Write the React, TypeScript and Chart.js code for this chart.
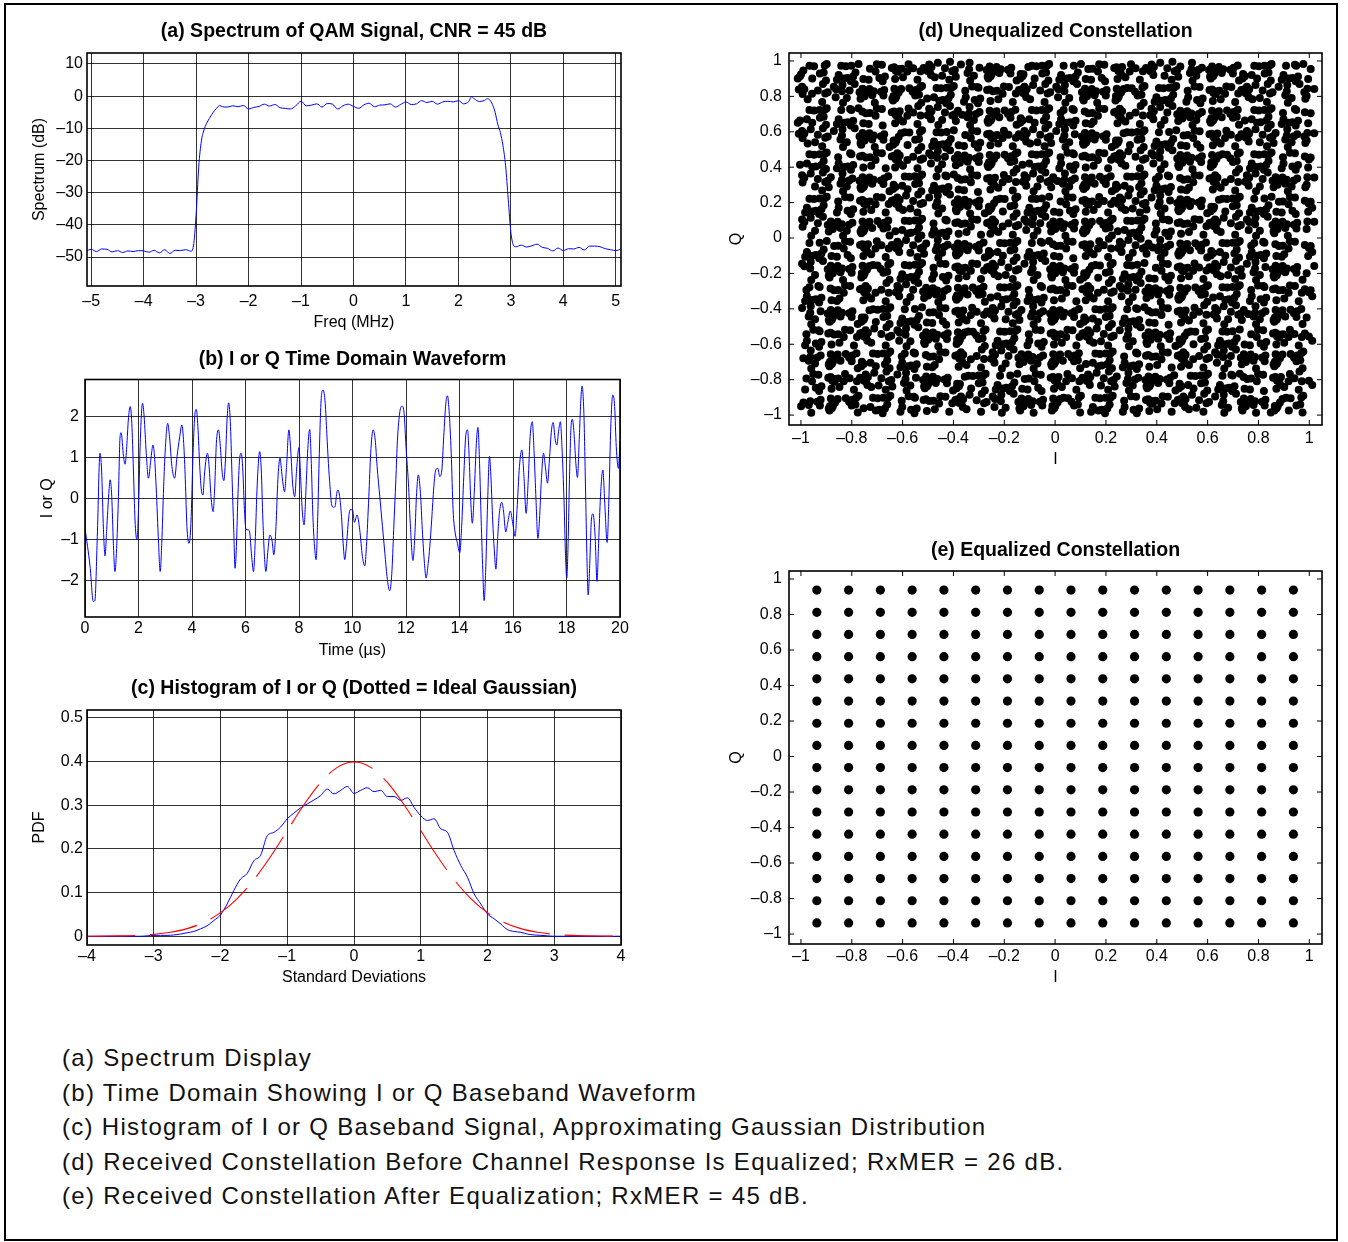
import React, { useEffect, useRef } from 'react';
import { Chart, registerables } from 'chart.js';

Chart.register(...registerables);
Chart.defaults.font.family = "'Liberation Sans', Arial, Helvetica, sans-serif";
Chart.defaults.color = '#000';

// ---------------- (a) Spectrum ----------------
const specFreqMHz = [
  -5.1, -5.0, -4.9, -4.8, -4.7, -4.6, -4.5, -4.4, -4.3, -4.2, -4.1, -4.0, -3.9, -3.8, -3.7, -3.6, -3.5, -3.4, -3.3, -3.2, -3.1,
  -3.05, -3.0, -2.95, -2.9, -2.85, -2.8, -2.75, -2.7, -2.65, -2.6, -2.55, -2.5, -2.4, -2.3, -2.2, -2.1, -2.0, -1.9, -1.8, -1.7,
  -1.6, -1.5, -1.4, -1.3, -1.2, -1.1, -1.0, -0.9, -0.8, -0.7, -0.6, -0.5, -0.4, -0.3, -0.2, -0.1, 0.0, 0.1, 0.2, 0.3, 0.4, 0.5,
  0.6, 0.7, 0.8, 0.9, 1.0, 1.1, 1.2, 1.3, 1.4, 1.5, 1.6, 1.7, 1.8, 1.9, 2.0, 2.1, 2.2, 2.25, 2.3, 2.4, 2.5, 2.55, 2.6, 2.65,
  2.7, 2.75, 2.8, 2.85, 2.9, 2.95, 3.0, 3.05, 3.1, 3.2, 3.3, 3.4, 3.5, 3.6, 3.7, 3.8, 3.9, 4.0, 4.1, 4.2, 4.3, 4.4, 4.5, 4.6,
  4.7, 4.8, 4.9, 5.0, 5.1,
];
const specLevelDb = [
  -48.2, -47.6, -48.3, -47.5, -47.6, -48.4, -48.0, -48.6, -48.1, -48.3, -48.0, -48.1, -48.5, -47.9, -48.7, -47.7, -48.9, -47.9, -48.0, -47.7, -48.2,
  -46.5, -37.0, -22.0, -14.0, -10.5, -8.5, -7.0, -5.7, -4.5, -3.6, -2.9, -3.3, -3.4, -3.0, -3.3, -2.9, -4.0, -3.5, -3.2, -2.5,
  -3.1, -2.6, -3.6, -3.8, -4.0, -3.0, -1.6, -3.0, -2.8, -2.4, -3.4, -2.3, -2.5, -4.0, -3.0, -2.5, -3.2, -3.8, -2.7, -2.2, -3.3, -2.8,
  -2.7, -2.4, -3.4, -2.6, -1.8, -2.6, -2.4, -1.4, -2.0, -1.6, -2.5, -1.8, -1.6, -1.8, -1.4, -2.4, -1.6, -0.2, -0.8, -1.7, -1.3, -0.8, -1.2, -2.6,
  -5.0, -8.7, -11.3, -15.4, -21.6, -32.0, -42.2, -46.3, -46.8, -46.3, -46.9, -46.5, -46.0, -47.0, -47.3, -48.1, -47.2, -48.0, -47.4, -47.5, -47.0, -47.8, -46.6, -46.6,
  -46.8, -47.4, -47.7, -48.0, -47.5,
];
const specXTicks = [-5, -4, -3, -2, -1, 0, 1, 2, 3, 4, 5];
const specYTicks = [-50, -40, -30, -20, -10, 0, 10];

// ---------------- (b) Time-domain waveform ----------------
const waveTimeUs = [
  0, 0.19, 0.31, 0.37, 0.46, 0.56, 0.62, 0.69, 0.75, 0.81, 0.89, 0.94, 1.0, 1.06, 1.12, 1.19, 1.25, 1.31, 1.35, 1.44,
  1.5, 1.56, 1.62, 1.69, 1.75, 1.81, 1.87, 1.94, 2.0, 2.06, 2.15, 2.21, 2.29, 2.37, 2.46, 2.54, 2.59, 2.66, 2.75, 2.81,
  2.87, 2.94, 3.0, 3.09, 3.16, 3.25, 3.35, 3.44, 3.54, 3.62, 3.69, 3.75, 3.81, 3.89, 3.96, 4.04, 4.1, 4.16, 4.22, 4.29,
  4.35, 4.41, 4.46, 4.53, 4.58, 4.64, 4.71, 4.79, 4.85, 4.91, 4.99, 5.06, 5.12, 5.19, 5.25, 5.31, 5.37, 5.44, 5.5, 5.56,
  5.61, 5.66, 5.72, 5.79, 5.84, 5.9, 5.96, 6.02, 6.1, 6.16, 6.22, 6.3, 6.36, 6.44, 6.53, 6.59, 6.65, 6.71, 6.76, 6.84,
  6.91, 6.99, 7.06, 7.14, 7.21, 7.29, 7.37, 7.46, 7.54, 7.62, 7.69, 7.76, 7.84, 7.91, 8.0, 8.06, 8.12, 8.19, 8.26, 8.32,
  8.4, 8.46, 8.52, 8.59, 8.64, 8.7, 8.76, 8.82, 8.9, 8.98, 9.04, 9.1, 9.16, 9.22, 9.29, 9.35, 9.41, 9.46, 9.52, 9.59,
  9.65, 9.71, 9.77, 9.85, 9.91, 10.0, 10.07, 10.17, 10.27, 10.37, 10.46, 10.52, 10.61, 10.68, 10.77, 10.85, 10.92, 11.02, 11.12, 11.21,
  11.29, 11.39, 11.47, 11.54, 11.62, 11.68, 11.77, 11.85, 11.93, 12.0, 12.09, 12.16, 12.26, 12.34, 12.39, 12.46, 12.54, 12.61, 12.69, 12.75,
  12.83, 12.89, 12.96, 13.04, 13.11, 13.19, 13.26, 13.34, 13.41, 13.49, 13.55, 13.61, 13.69, 13.76, 13.84, 13.91, 14.01, 14.08, 14.16, 14.23,
  14.3, 14.36, 14.42, 14.48, 14.55, 14.63, 14.69, 14.75, 14.81, 14.87, 14.92, 14.98, 15.05, 15.12, 15.18, 15.24, 15.3, 15.36, 15.43, 15.49,
  15.58, 15.64, 15.73, 15.8, 15.9, 15.99, 16.08, 16.15, 16.24, 16.33, 16.41, 16.49, 16.57, 16.64, 16.72, 16.79, 16.86, 16.93, 16.99, 17.06,
  17.14, 17.21, 17.29, 17.36, 17.44, 17.5, 17.58, 17.64, 17.71, 17.77, 17.83, 17.91, 17.96, 18.01, 18.06, 18.11, 18.17, 18.22, 18.29, 18.35,
  18.41, 18.48, 18.53, 18.58, 18.65, 18.71, 18.76, 18.81, 18.87, 18.93, 18.99, 19.07, 19.14, 19.2, 19.27, 19.36, 19.43, 19.52, 19.58, 19.66,
  19.73, 19.8, 19.86, 19.94, 20.0,
];
const waveLevel = [
  -0.73, -1.67, -2.52, -2.5, -0.93, 1.1, 0.69, -0.77, -1.41, -0.77, 0.12, 0.45, 0.04, -1.1, -1.79, -1.1, 0.04, 1.5, 1.6, 1.02,
  0.83, 1.26, 1.91, 2.24, 1.83, 0.69, -0.53, -1.02, -0.28, 1.26, 2.32, 2.0, 1.1, 0.49, 0.93, 1.3, 1.1, 0.28, -1.1, -1.79,
  -1.1, 0.28, 1.18, 1.83, 1.5, 0.77, 0.49, 1.02, 1.5, 1.79, 1.34, 0.45, -0.69, -1.1, -0.61, 1.1, 1.99, 2.17, 1.75, 0.77,
  0.2, 0.08, 0.53, 0.98, 1.1, 0.77, 0.04, -0.33, 0.28, 1.34, 1.67, 1.26, 0.69, 0.43, 0.93, 1.91, 2.33, 1.75, 0.45, -0.77,
  -1.71, -1.18, 0.12, 1.02, 1.1, 0.69, -0.28, -0.76, -0.77, -0.85, -1.34, -1.79, -1.1, 0.37, 1.14, 0.69, -0.53, -1.43, -1.79, -1.26,
  -0.9, -1.02, -1.38, -0.69, 0.45, 0.98, 0.53, 0.16, 0.85, 1.67, 1.18, 0.37, 0.04, 0.69, 1.24, 0.53, -0.28, -0.65, 0.2, 1.1,
  1.68, 0.85, -0.45, -1.26, -1.5, -0.45, 1.1, 2.32, 2.64, 2.32, 1.58, 0.85, 0.28, -0.16, -0.22, -0.2, 0.12, 0.2, 0.04, -0.45,
  -1.1, -1.5, -1.18, -0.53, -0.28, -0.28, -0.59, -0.41, -0.77, -1.42, -1.65, -1.18, 0.04, 1.1, 1.67, 1.42, 0.77, 0.04, -0.69, -1.34,
  -1.91, -2.26, -1.83, -0.77, 0.45, 1.42, 2.11, 2.25, 2.07, 1.26, 0.37, -0.61, -1.52, -0.77, 0.04, 0.57, 0.12, -0.77, -1.59, -1.95,
  -1.59, -1.18, -0.53, 0.28, 0.69, 0.73, 0.53, 0.69, 1.5, 2.32, 2.5, 2.15, 1.1, -0.28, -0.85, -1.06, -1.33, -0.69, 0.53, 1.5,
  1.67, 1.02, -0.04, -0.61, 0.12, 1.34, 1.73, 0.85, -0.53, -1.75, -2.5, -1.75, -0.12, 1.02, 0.45, -0.53, -1.26, -1.73, -0.93, -0.37,
  -0.1, -0.28, -0.82, -0.61, -0.31, -0.61, -0.93, -0.28, 0.77, 1.18, 0.53, -0.37, 0.45, 1.5, 1.87, 1.1, -0.04, -0.98, -0.53, 0.45,
  1.1, 0.77, 0.37, 0.93, 1.67, 1.85, 1.42, 1.3, 1.67, 1.87, 1.26, -0.12, -1.34, -1.95, -1.1, 0.45, 1.75, 1.93, 1.5, 0.85,
  0.51, 1.5, 2.32, 2.74, 2.07, 0.28, -1.34, -2.36, -1.59, -0.53, -0.38, -0.93, -2.03, -1.1, 0.04, 0.69, -0.12, -1.08, -0.12, 1.83,
  2.52, 2.24, 1.26, 0.73, 1.4,
];
const waveXTicks = [0, 2, 4, 6, 8, 10, 12, 14, 16, 18, 20];
const waveYTicks = [-2, -1, 0, 1, 2];

// ---------------- (c) Histogram ----------------
const histSigma = [
  -4.0, -3.9, -3.8, -3.7, -3.6, -3.5, -3.4, -3.3, -3.2, -3.1, -3.0, -2.9, -2.8, -2.7, -2.6, -2.5, -2.4, -2.3, -2.2, -2.1,
  -2.0, -1.9, -1.8, -1.7, -1.6, -1.5, -1.4, -1.3, -1.2, -1.1, -1.0, -0.9, -0.8, -0.7, -0.6, -0.5, -0.4, -0.3, -0.2, -0.1,
  0.0, 0.1, 0.2, 0.3, 0.4, 0.5, 0.6, 0.7, 0.8, 0.9, 1.0, 1.1, 1.2, 1.3, 1.4, 1.5, 1.6, 1.7, 1.8, 1.9,
  2.0, 2.1, 2.2, 2.3, 2.4, 2.5, 2.6, 2.7, 2.8, 2.9, 3.0, 3.1, 3.2, 3.3, 3.4, 3.5, 3.6, 3.7, 3.8, 3.9, 4.0,
];
const histPdf = [
  0, 0, 0, 0, 0, 0, 0, 0, 0, 0.001, 0.002, 0.002, 0.002, 0.003, 0.005, 0.008, 0.011, 0.017, 0.024, 0.036,
  0.049, 0.074, 0.105, 0.131, 0.144, 0.173, 0.185, 0.23, 0.238, 0.25, 0.269, 0.282, 0.294, 0.303, 0.312, 0.322, 0.337, 0.326, 0.334, 0.343,
  0.327, 0.334, 0.34, 0.331, 0.334, 0.32, 0.32, 0.311, 0.317, 0.295, 0.276, 0.265, 0.269, 0.246, 0.238, 0.196, 0.162, 0.135, 0.097, 0.074,
  0.051, 0.04, 0.028, 0.015, 0.011, 0.009, 0.005, 0.003, 0.002, 0.001, 0, 0, 0, 0, 0, 0, 0, 0, 0, 0, 0,
];
const gaussSigma = [
  -4, -3.75, -3.5, -3.25, -3, -2.75, -2.5, -2.25, -2, -1.75, -1.5, -1.25, -1, -0.75, -0.5, -0.25, 0,
  0.25, 0.5, 0.75, 1, 1.25, 1.5, 1.75, 2, 2.25, 2.5, 2.75, 3, 3.25, 3.5, 3.75, 4,
];
const gaussPdf = [
  0.0001, 0.0004, 0.0009, 0.002, 0.0044, 0.0091, 0.0175, 0.0317, 0.054, 0.0863, 0.1295, 0.1826, 0.242, 0.3011, 0.3521, 0.3867, 0.3989,
  0.3867, 0.3521, 0.3011, 0.242, 0.1826, 0.1295, 0.0863, 0.054, 0.0317, 0.0175, 0.0091, 0.0044, 0.002, 0.0009, 0.0004, 0.0001,
];
const histXTicks = [-4, -3, -2, -1, 0, 1, 2, 3, 4];
const histYTicks = [0, 0.1, 0.2, 0.3, 0.4, 0.5];

// ---------------- (d)/(e) Constellations ----------------
const qamLevels = [
  -0.9375, -0.8125, -0.6875, -0.5625, -0.4375, -0.3125, -0.1875, -0.0625,
  0.0625, 0.1875, 0.3125, 0.4375, 0.5625, 0.6875, 0.8125, 0.9375,
];
const constTicks = [-1, -0.8, -0.6, -0.4, -0.2, 0, 0.2, 0.4, 0.6, 0.8, 1];
// estimated scatter of received symbols around each ideal point (before equalization)
const unequalizedSpread: [number, number][] = [
  [0.012, -0.008], [-0.041, 0.019], [0.055, 0.031], [-0.018, -0.037], [0.033, 0.004], [-0.062, -0.012],
  [0.006, 0.041], [0.047, -0.026], [-0.029, 0.035], [0.021, -0.044], [-0.053, 0.009], [0.068, 0.017],
  [-0.007, -0.021], [0.039, 0.046], [-0.036, -0.029], [0.002, 0.013], [0.058, -0.039], [-0.024, 0.052],
  [0.027, -0.003], [-0.071, 0.027], [0.015, 0.024], [-0.046, -0.043], [0.043, 0.011], [-0.011, 0.033],
  [0.074, -0.017], [-0.032, -0.006], [0.009, -0.052], [-0.058, 0.042], [0.031, 0.037], [-0.019, 0.003],
  [0.052, -0.011], [-0.004, -0.033], [0.024, 0.058], [-0.066, -0.024], [0.061, 0.006], [-0.026, 0.016],
  [0.018, -0.025], [-0.049, 0.028], [0.036, -0.048], [-0.014, 0.044], [0.082, 0.029], [-0.039, -0.017],
  [0.004, 0.021], [-0.075, -0.036], [0.045, 0.023], [-0.022, -0.049], [0.011, 0.036], [-0.056, 0.001],
];
const symbolsPerPoint = 12;

const captionLines = [
  '(a) Spectrum Display',
  '(b) Time Domain Showing I or Q Baseband Waveform',
  '(c) Histogram of I or Q Baseband Signal, Approximating Gaussian Distribution',
  '(d) Received Constellation Before Channel Response Is Equalized; RxMER = 26 dB.',
  '(e) Received Constellation After Equalization; RxMER = 45 dB.',
];

// ---------------- helpers ----------------
const EN = '\u2013';
function fmtTick(v: number): string {
  const r = Math.round(v * 1000) / 1000;
  if (r === 0) return '0';
  return r < 0 ? EN + String(-r) : String(r);
}
const zip = (xs: number[], ys: number[]) => xs.map((x, i) => ({ x, y: ys[i] }));

const unequalizedPoints: { x: number; y: number }[] = [];
qamLevels.forEach((xi, i) =>
  qamLevels.forEach((yj, j) => {
    for (let k = 0; k < symbolsPerPoint; k++) {
      const [dx, dy] = unequalizedSpread[(i * 13 + j * 29 + k * 5) % unequalizedSpread.length];
      unequalizedPoints.push({ x: xi + dx, y: yj + dy });
    }
  })
);
const equalizedPoints: { x: number; y: number }[] = [];
qamLevels.forEach((xi) => qamLevels.forEach((yj) => equalizedPoints.push({ x: xi, y: yj })));

const frame = {
  id: 'frame',
  afterDraw(chart: any, _args: any, opts: any) {
    const { ctx, chartArea } = chart;
    const { left, top, right, bottom } = chartArea;
    ctx.save();
    ctx.strokeStyle = '#000';
    if (opts && opts.inwardTicks) {
      const len = 5;
      ctx.lineWidth = 1;
      ctx.beginPath();
      const xs = chart.scales.x;
      const ys = chart.scales.y;
      xs.ticks.forEach((_t: any, i: number) => {
        const p = xs.getPixelForTick(i);
        ctx.moveTo(p, bottom);
        ctx.lineTo(p, bottom - len);
        ctx.moveTo(p, top);
        ctx.lineTo(p, top + len);
      });
      ys.ticks.forEach((_t: any, i: number) => {
        const p = ys.getPixelForTick(i);
        ctx.moveTo(left, p);
        ctx.lineTo(left + len, p);
        ctx.moveTo(right, p);
        ctx.lineTo(right - len, p);
      });
      ctx.stroke();
    }
    ctx.lineWidth = 1.6;
    ctx.strokeRect(left, top, right - left, bottom - top);
    ctx.restore();
  },
};

const TITLE_FS = 19.5;
const TITLE_LH = TITLE_FS * 1.2;
const TICK_FS = 16;
const TICK_LH = TICK_FS * 1.2;
const AX_FS = 16;
const AX_LH = AX_FS * 1.2;

type Panel = {
  kind: 'line' | 'scatter';
  plot: [number, number, number, number];
  titleY: number;
  xLabelY: number;
  xTitleY: number;
  yTitleX: number;
  yLabelRight: number;
  title: string;
  xTitle: string;
  yTitle: string;
  xRange: [number, number];
  yRange: [number, number];
  xTicks: number[];
  yTicks: number[];
  grid: boolean;
  datasets: any[];
};

function layoutOf(p: Panel) {
  const [l, t, r, b] = p.plot;
  const left = Math.floor(p.yTitleX - AX_LH / 2 - 2);
  const yTitlePad = p.yTitleX - AX_LH / 2 - left;
  const yAxisW = l - left;
  const top = Math.floor(p.titleY - TITLE_LH / 2 - 3);
  const titlePadTop = p.titleY - TITLE_LH / 2 - top;
  const titlePadBottom = t - top - titlePadTop - TITLE_LH;
  const xAxisH = p.xTitleY + AX_LH / 2 + 2 - b;
  const xTickPad = p.xLabelY - b - TICK_LH / 2;
  const yTickPad = l - p.yLabelRight;
  const width = Math.ceil(r + 14 - left);
  const height = Math.ceil(b + xAxisH + 2 - top);
  const padRight = width - (r - left);
  const padBottom = height - (b + xAxisH - top);
  return { left, top, width, height, yTitlePad, yAxisW, titlePadTop, titlePadBottom, xAxisH, xTickPad, yTickPad, padRight, padBottom };
}

function buildConfig(p: Panel, L: ReturnType<typeof layoutOf>): any {
  const gridOpts = p.grid
    ? { display: true, color: 'rgba(0,0,0,0.8)', lineWidth: 1, drawTicks: false }
    : { display: false, drawTicks: false };
  return {
    type: p.kind,
    data: { datasets: p.datasets },
    options: {
      responsive: false,
      animation: false,
      events: [],
      layout: { padding: { left: 0, top: 0, right: L.padRight, bottom: L.padBottom } },
      plugins: {
        legend: { display: false },
        tooltip: { enabled: false },
        title: {
          display: true,
          text: p.title,
          fullSize: false,
          color: '#000',
          font: { size: TITLE_FS, weight: 'bold', lineHeight: 1.2 },
          padding: { top: L.titlePadTop, bottom: L.titlePadBottom },
        },
        frame: { inwardTicks: !p.grid },
      },
      scales: {
        x: {
          type: 'linear',
          position: 'bottom',
          min: p.xRange[0],
          max: p.xRange[1],
          afterBuildTicks: (ax: any) => {
            ax.ticks = p.xTicks.map((v) => ({ value: v }));
          },
          afterFit: (ax: any) => {
            ax.height = L.xAxisH;
          },
          ticks: {
            padding: L.xTickPad,
            maxRotation: 0,
            autoSkip: false,
            color: '#000',
            font: { size: TICK_FS, lineHeight: 1.2 },
            callback: (v: any) => fmtTick(Number(v)),
          },
          grid: gridOpts,
          border: { display: false },
          title: {
            display: true,
            text: p.xTitle,
            color: '#000',
            font: { size: AX_FS, lineHeight: 1.2 },
            padding: { top: 0, bottom: 2 },
          },
        },
        y: {
          type: 'linear',
          position: 'left',
          min: p.yRange[0],
          max: p.yRange[1],
          afterBuildTicks: (ax: any) => {
            ax.ticks = p.yTicks.map((v) => ({ value: v }));
          },
          afterFit: (ax: any) => {
            ax.width = L.yAxisW;
          },
          ticks: {
            padding: L.yTickPad,
            autoSkip: false,
            color: '#000',
            font: { size: TICK_FS, lineHeight: 1.2 },
            callback: (v: any) => fmtTick(Number(v)),
          },
          grid: gridOpts,
          border: { display: false },
          title: {
            display: true,
            text: p.yTitle,
            color: '#000',
            font: { size: AX_FS, lineHeight: 1.2 },
            padding: { top: L.yTitlePad, bottom: 0 },
          },
        },
      },
    },
    plugins: [frame],
  };
}

const blueLine = (data: any[]) => ({
  data,
  borderColor: '#0000ff',
  borderWidth: 1,
  pointRadius: 0,
  cubicInterpolationMode: 'monotone',
  fill: false,
});

const panels: Panel[] = [
  {
    kind: 'line',
    plot: [87, 53, 621, 286],
    titleY: 32, xLabelY: 302, xTitleY: 323, yTitleX: 40, yLabelRight: 83,
    title: '(a) Spectrum of QAM Signal, CNR = 45 dB',
    xTitle: 'Freq (MHz)', yTitle: 'Spectrum (dB)',
    xRange: [-5.08, 5.1], yRange: [-59, 13.4],
    xTicks: specXTicks, yTicks: specYTicks, grid: true,
    datasets: [blueLine(zip(specFreqMHz, specLevelDb))],
  },
  {
    kind: 'line',
    plot: [85, 379.5, 620, 617],
    titleY: 360, xLabelY: 629, xTitleY: 651, yTitleX: 48, yLabelRight: 79,
    title: '(b) I or Q Time Domain Waveform',
    xTitle: 'Time (\u00b5s)', yTitle: 'I or Q',
    xRange: [0, 20], yRange: [-2.9, 2.9],
    xTicks: waveXTicks, yTicks: waveYTicks, grid: true,
    datasets: [blueLine(zip(waveTimeUs, waveLevel))],
  },
  {
    kind: 'line',
    plot: [87, 710, 621, 945],
    titleY: 689, xLabelY: 957, xTitleY: 978, yTitleX: 40, yLabelRight: 83,
    title: '(c) Histogram of I or Q (Dotted = Ideal Gaussian)',
    xTitle: 'Standard Deviations', yTitle: 'PDF',
    xRange: [-4, 4], yRange: [-0.02, 0.518],
    xTicks: histXTicks, yTicks: histYTicks, grid: true,
    datasets: [
      {
        data: zip(gaussSigma, gaussPdf),
        borderColor: '#ff0000',
        borderWidth: 1.1,
        borderDash: [48, 15],
        pointRadius: 0,
        cubicInterpolationMode: 'monotone',
        fill: false,
      },
      blueLine(zip(histSigma, histPdf)),
    ],
  },
  {
    kind: 'scatter',
    plot: [789, 53, 1322, 425],
    titleY: 32, xLabelY: 439, xTitleY: 460, yTitleX: 737, yLabelRight: 782,
    title: '(d) Unequalized Constellation',
    xTitle: 'I', yTitle: 'Q',
    xRange: [-1.047, 1.05], yRange: [-1.056, 1.045],
    xTicks: constTicks, yTicks: constTicks, grid: false,
    datasets: [
      { data: unequalizedPoints, backgroundColor: '#000', borderWidth: 0, pointRadius: 4 },
    ],
  },
  {
    kind: 'scatter',
    plot: [789, 571, 1322, 944],
    titleY: 551, xLabelY: 957, xTitleY: 978, yTitleX: 737, yLabelRight: 782,
    title: '(e) Equalized Constellation',
    xTitle: 'I', yTitle: 'Q',
    xRange: [-1.047, 1.05], yRange: [-1.056, 1.045],
    xTicks: constTicks, yTicks: constTicks, grid: false,
    datasets: [
      { data: equalizedPoints, backgroundColor: '#000', borderWidth: 0, pointRadius: 4.6 },
    ],
  },
];

function PanelCanvas({ panel }: { panel: Panel }) {
  const ref = useRef<HTMLCanvasElement | null>(null);
  const L = layoutOf(panel);
  useEffect(() => {
    if (!ref.current) return;
    const chart = new Chart(ref.current, buildConfig(panel, L));
    return () => chart.destroy();
  }, []);
  return (
    <canvas
      ref={ref}
      width={L.width}
      height={L.height}
      style={{ position: 'absolute', left: L.left, top: L.top, width: L.width, height: L.height }}
    />
  );
}

export default function App() {
  return (
    <div
      style={{
        position: 'absolute',
        left: 0,
        top: 0,
        width: 1348,
        height: 1242,
        background: '#fff',
        overflow: 'hidden',
      }}
    >
      <div
        style={{
          position: 'absolute',
          left: 4,
          top: 3,
          width: 1330,
          height: 1234,
          border: '2px solid #000',
        }}
      />
      {panels.map((p, i) => (
        <PanelCanvas key={i} panel={p} />
      ))}
      <div
        style={{
          position: 'absolute',
          left: 62,
          top: 1041,
          fontFamily: "'Liberation Sans', Arial, sans-serif",
          fontSize: 24,
          lineHeight: '34.6px',
          letterSpacing: '1.3px',
          color: '#111',
          whiteSpace: 'nowrap',
        }}
      >
        {captionLines.map((s, i) => (
          <div key={i}>{s}</div>
        ))}
      </div>
    </div>
  );
}
